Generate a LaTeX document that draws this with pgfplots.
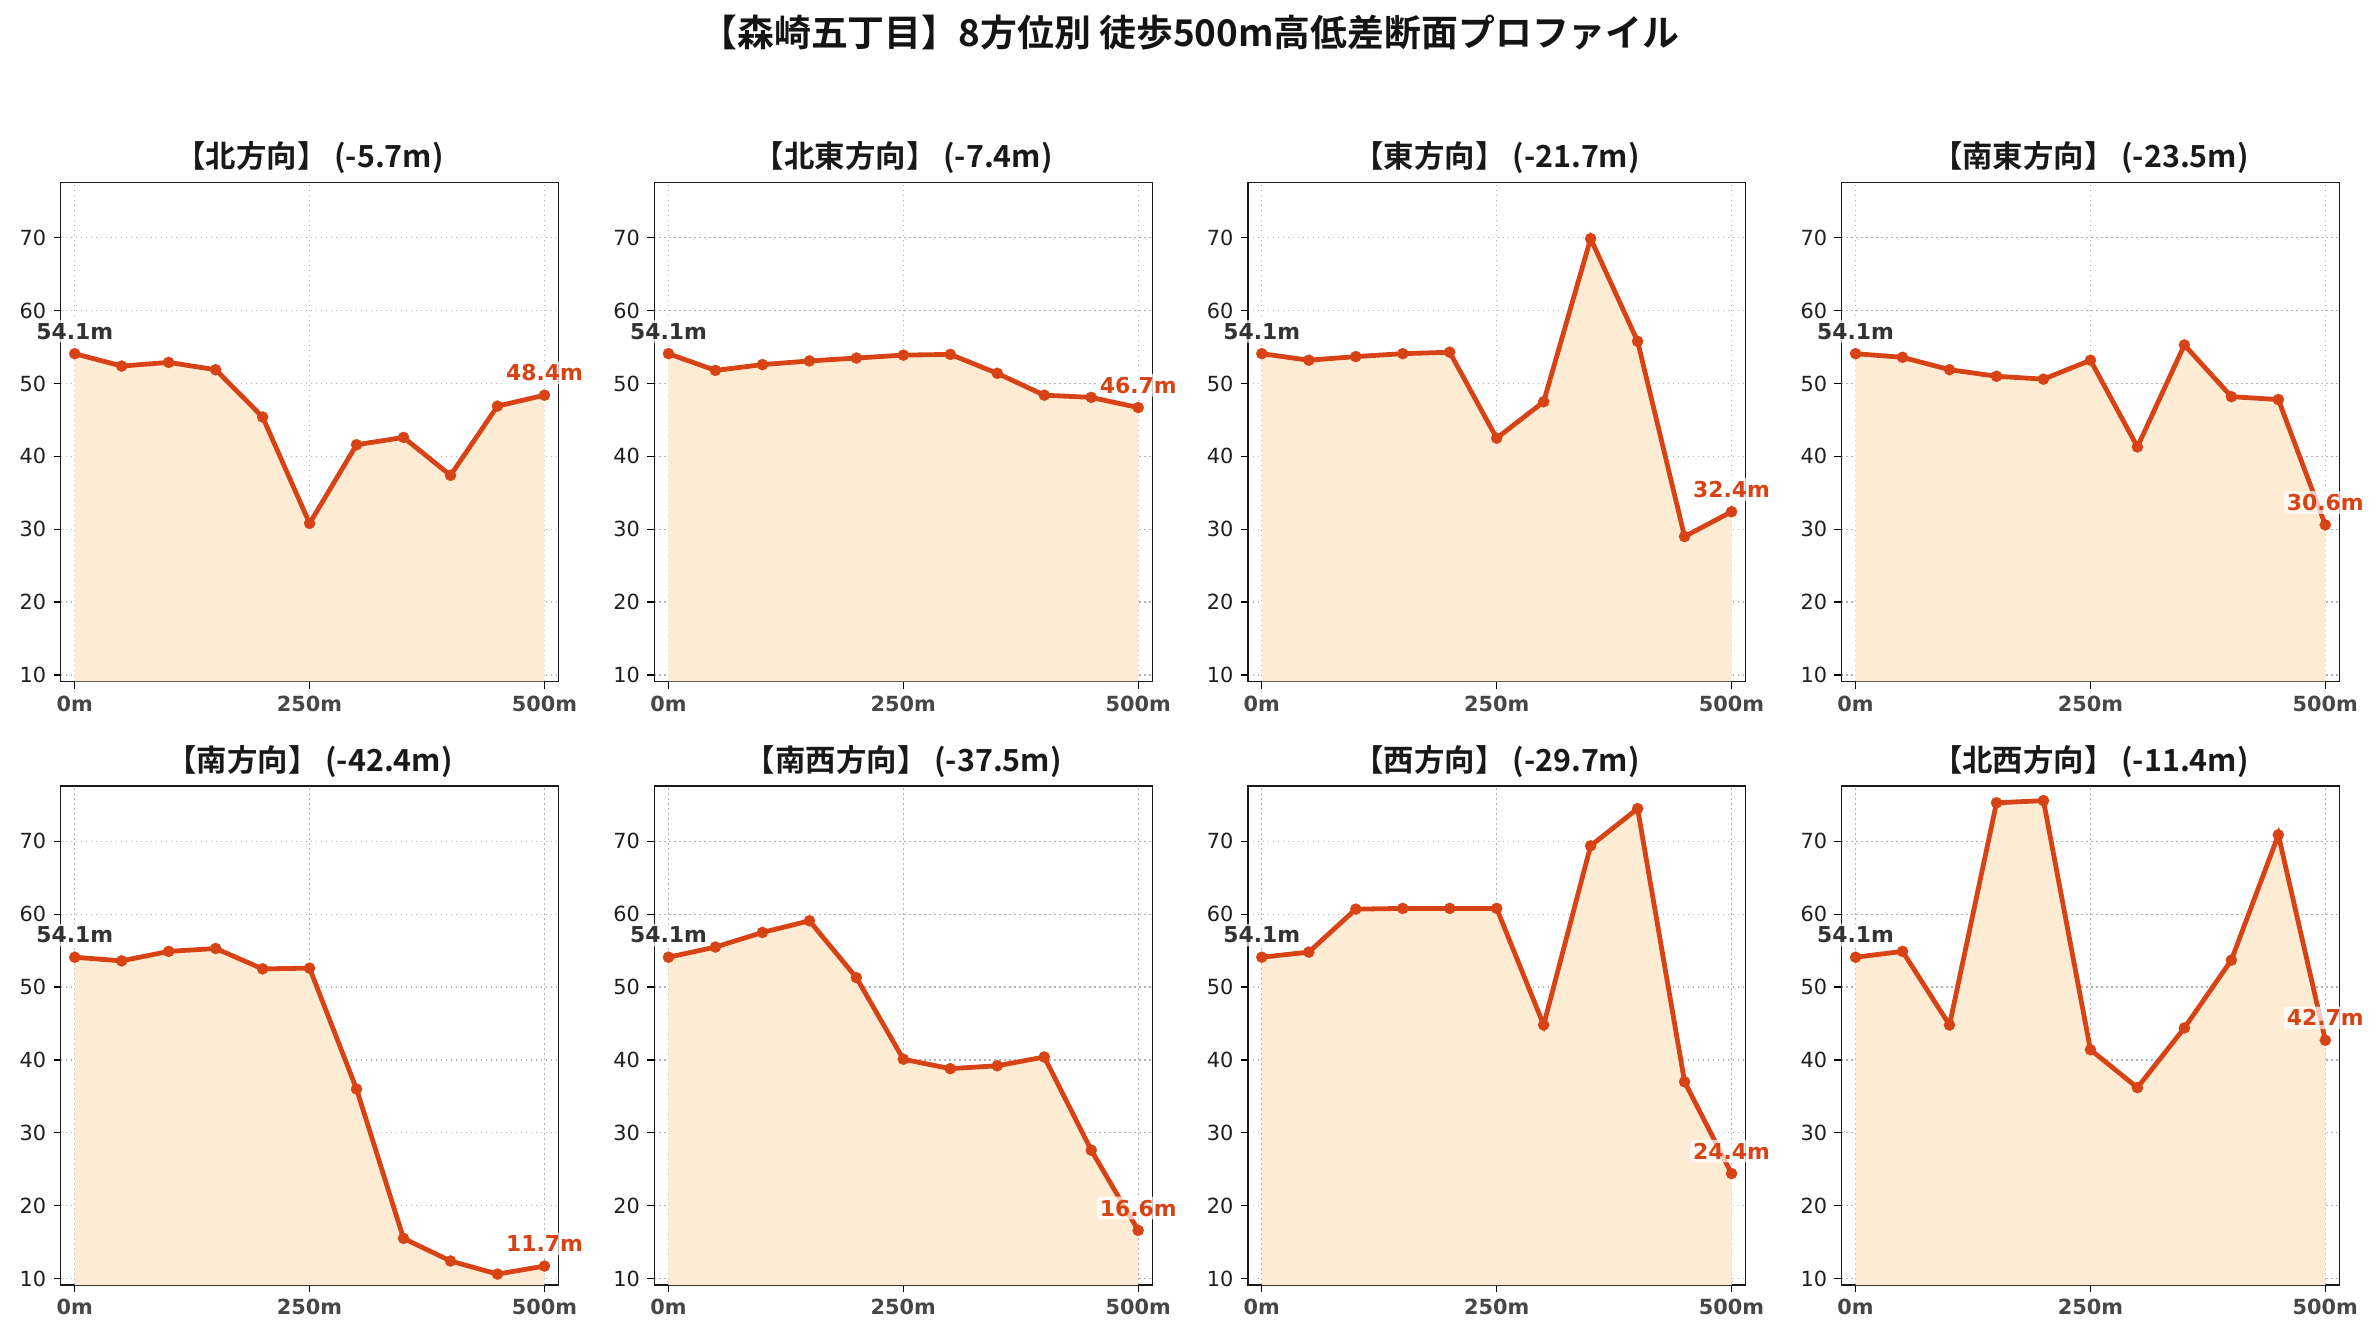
\documentclass[border=0pt]{standalone}
\usepackage{fontspec}
\setmainfont{DejaVu Sans}
\newfontfamily\cjk{Noto Sans CJK JP}[BoldFont={Noto Sans CJK JP Bold}]
\usepackage{pgfplots}
\usepackage{pgfplotstable}
\pgfplotsset{compat=1.18}

\definecolor{lineorange}{HTML}{D84315}
\definecolor{areafill}{HTML}{FDECD3}
\definecolor{labelgray}{HTML}{333333}

% elevation (m) every 50 m along each of the 8 directions
\pgfplotstableread{
d   N    NE   E    SE   S    SW   W    NW
0   54.1 54.1 54.1 54.1 54.1 54.1 54.1 54.1
50  52.4 51.8 53.2 53.6 53.6 55.5 54.8 54.9
100 52.9 52.6 53.7 51.9 54.9 57.5 60.7 44.8
150 51.9 53.1 54.1 51.0 55.3 59.1 60.8 75.3
200 45.4 53.5 54.3 50.6 52.5 51.3 60.8 75.6
250 30.8 53.9 42.5 53.2 52.6 40.1 60.8 41.4
300 41.6 54.0 47.5 41.3 36.0 38.8 44.8 36.2
350 42.6 51.4 69.9 55.3 15.5 39.2 69.4 44.4
400 37.4 48.4 55.8 48.2 12.4 40.4 74.5 53.7
450 46.9 48.1 29.0 47.8 10.6 27.6 37.0 70.9
500 48.4 46.7 32.4 30.6 11.7 16.6 24.4 42.7
}\elev

\pgfplotsset{
  panel/.style={
    scale only axis, width=239pt, height=239.5pt,
    anchor=north west,
    xmin=-15, xmax=515, ymin=9.1, ymax=77.6,
    xtick={0,250,500}, xticklabels={0m,250m,500m},
    ytick={10,20,...,70},
    tick pos=left, tick align=outside, major tick length=3.4pt,
    tick style={black, line width=0.6pt},
    axis line style={black!90, line width=0.75pt},
    grid=major,
    major grid style={dash pattern=on 0.8pt off 1.6pt, black!30, line width=0.6pt},
    /pgf/number format/assume math mode=true,
    yticklabel style={font=\fontsize{10}{12}\selectfont, text=black!88},
    xticklabel style={font=\bfseries\fontsize{10}{12}\selectfont, text=black!72},
    clip mode=individual,
  },
  elevline/.style={lineorange, line width=2.3pt, mark=*, mark size=2.7pt,
    mark options={fill=lineorange, draw=lineorange, line width=0.1pt}},
}

\tikzset{
  startlbl/.style={font=\bfseries\fontsize{10.5}{12}\selectfont, text=labelgray,
    fill=white, fill opacity=0.7, text opacity=1, rounded corners=1.5pt,
    inner sep=1.5pt, anchor=base, yshift=6.9pt},
  endlbl/.style={startlbl, text=lineorange},
  ttl/.style={font=\cjk\bfseries\fontsize{14.6}{16}\selectfont, text=black!90,
    anchor=base, yshift=7.2pt, inner sep=0pt},
}

% #1,#2 top left of the axis box, #3 title, #4 table column, #5 end value
\newcommand{\panel}[5]{%
  \begin{axis}[panel, at={(#1,#2)}]
    \addplot[fill=areafill, draw=none, forget plot] table[x=d, y=#4] {\elev} \closedcycle;
    \addplot[elevline] table[x=d, y=#4] {\elev};
    \node[startlbl] at (axis cs:0,54.1) {54.1m};
    \node[endlbl] at (axis cs:500,#5) {#5m};
    \node[ttl] at (rel axis cs:0.5,1) {#3};
  \end{axis}}

\begin{document}
\begin{tikzpicture}
\useasboundingbox (0,0) rectangle (1142.4pt,643.2pt);
\node[font=\cjk\bfseries\fontsize{17.7}{20}\selectfont, text=black!92] at (571.2pt,627.4pt)
  {【森崎五丁目】8方位別 徒歩500m高低差断面プロファイル};

\panel{29.1pt}{555.6pt}{【北方向】 (-5.7m)}{N}{48.4}
\panel{314.1pt}{555.6pt}{【北東方向】 (-7.4m)}{NE}{46.7}
\panel{598.9pt}{555.6pt}{【東方向】 (-21.7m)}{E}{32.4}
\panel{883.9pt}{555.6pt}{【南東方向】 (-23.5m)}{SE}{30.6}

\panel{29.1pt}{265.9pt}{【南方向】 (-42.4m)}{S}{11.7}
\panel{314.1pt}{265.9pt}{【南西方向】 (-37.5m)}{SW}{16.6}
\panel{598.9pt}{265.9pt}{【西方向】 (-29.7m)}{W}{24.4}
\panel{883.9pt}{265.9pt}{【北西方向】 (-11.4m)}{NW}{42.7}
\end{tikzpicture}
\end{document}
